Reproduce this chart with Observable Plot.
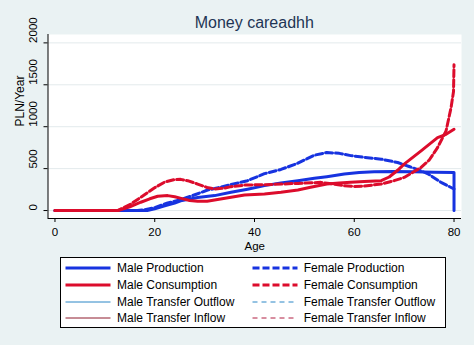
<!DOCTYPE html>
<html><head><meta charset="utf-8">
<script src="https://cdn.jsdelivr.net/npm/d3@7"></script>
<script src="https://cdn.jsdelivr.net/npm/@observablehq/plot@0.6"></script>
<style>
body{margin:0;background:#eaf2f3;font-family:"Liberation Sans",Arial,sans-serif;}
#wrap{position:relative;width:474px;height:345px;overflow:hidden;background:#eaf2f3;}
#title{position:absolute;left:47.5px;width:413.5px;top:13px;text-align:center;font-size:16px;line-height:20px;color:#1e3555;z-index:2;}
#chart{position:absolute;left:0;top:0;z-index:1;}
#legend{position:absolute;left:60px;top:257px;width:384px;height:69px;background:#fff;border:1px solid #000;font-size:12px;color:#000;z-index:2;}
.item{position:absolute;height:16px;line-height:16px;white-space:nowrap;}
.item svg{position:absolute;left:0;top:0;}
.item span{position:absolute;top:0;}
</style>
</head><body>
<div id="wrap">
  <div id="chart"></div>
  <div id="title"></div>
  <div id="legend"></div>
</div>
<script>
const titleText = "Money careadhh";
const xLabel = "Age";
const yLabel = "PLN/Year";
const xTicks = [0, 20, 40, 60, 80];
const yTicks = [0, 500, 1000, 1500, 2000];

// [age, value]
const maleProduction = [[0,0],[18.5,0],[20,20],[22,55],[24,90],[25.2,115],[28.6,155],[32,178],[35.3,218],[38.6,255],[42,297],[45.3,330],[48.7,356],[52,385],[54.5,404],[58,435],[61,455],[64,462],[68,466],[72,462],[76,458],[80,455],[80,0]];
const femaleProduction = [[0,0],[16.5,0],[18,10],[20,35],[22.6,90],[25,125],[26.6,158],[28.6,200],[30.6,245],[32,262],[35.3,310],[38.6,356],[42,440],[45.3,490],[48.7,565],[52,660],[54.5,692],[57,682],[59.3,655],[62,635],[65.4,613],[68.7,573],[71,525],[73.4,474],[75,430],[77.4,336],[80,257]];
const maleConsumption = [[0,0],[12.6,0],[15,45],[17.2,99],[19,140],[20.6,170],[22.6,178],[24,165],[25.3,145],[27,120],[28.6,110],[30.5,112],[32,125],[35.3,158],[38,185],[42,198],[45.3,218],[48.7,245],[51,275],[54.5,316],[57,328],[59.3,336],[62,345],[65.4,356],[67,400],[68.7,480],[70,554],[73.4,712],[76.7,870],[78.4,909],[80,969]];
const femaleConsumption = [[0,0],[12.6,0],[15,70],[17.2,158],[19.9,269],[22,340],[23.9,368],[25.2,372],[26.6,356],[28.6,316],[30.5,275],[32,257],[34,268],[35.3,285],[38.3,305],[42,308],[48.7,324],[53.3,336],[56,315],[58,295],[60,288],[62,292],[65.4,316],[68,356],[70,395],[73.4,514],[75,600],[76.7,751],[78.4,949],[79.4,1225],[79.9,1420],[80,1740]];

const seriesNames = ["Male Production","Female Production","Male Consumption","Female Consumption","Male Transfer Outflow","Female Transfer Outflow","Male Transfer Inflow","Female Transfer Inflow"];
const seriesData = [maleProduction, femaleProduction, maleConsumption, femaleConsumption, [], [], [], []];
const seriesColors = ["#1733e0","#1733e0","#dc0c2c","#dc0c2c","#2a86c6","#2a86c6","#8e1a2c","#b01c40"];
const seriesWidths = [3,3,3,3,1,1,1,1];
const seriesDash = [null,"7,3",null,"7,3",null,"5,4",null,"5,4"];

const xDomain = [-1.4, 81.5];
const yDomain = [-95, 2100];

document.getElementById("title").textContent = titleText;

const lineMarks = [];
[0,1,2,3].forEach(i => {
  const rows = seriesData[i].map(([age, value]) => ({age, value, series: seriesNames[i]}));
  lineMarks.push(Plot.line(rows, {x:"age", y:"value", stroke: seriesColors[i], strokeWidth: seriesWidths[i], strokeDasharray: seriesDash[i] || undefined, strokeLinejoin:"round"}));
});

const chart = Plot.plot({
  width: 474, height: 257,
  marginTop: 34, marginLeft: 47.5, marginRight: 13, marginBottom: 39,
  style: {background: "transparent", fontFamily: '"Liberation Sans",Arial,sans-serif', color: "#000"},
  x: {domain: xDomain},
  y: {domain: yDomain},
  marks: [
    Plot.frame({fill: "white", stroke: "none"}),
    Plot.gridY(yTicks, {stroke: "#e3eaec", strokeOpacity: 1}),
    Plot.ruleX([xDomain[0]], {stroke: "#000"}),
    Plot.ruleY([yDomain[0]], {stroke: "#000"}),
    Plot.axisX(xTicks, {tickSize: 4, tickPadding: 5, fontSize: 11.5, label: null}),
    Plot.axisY(yTicks, {tickSize: 4, tickFormat: () => "", label: null}),
    Plot.text(yTicks, {y: d => d, text: d => String(d), frameAnchor: "left", dx: -14.5, rotate: -90, fontSize: 11.5}),
    Plot.text([yLabel], {text: d => d, frameAnchor: "left", dx: -28, rotate: -90, fontSize: 12}),
    Plot.text([xLabel], {text: d => d, frameAnchor: "bottom", dy: 31.5, lineAnchor: "bottom", fontSize: 11.5}),
    ...lineMarks
  ]
});
document.getElementById("chart").appendChild(chart);

// legend
const legend = document.getElementById("legend");
const rowCenters = [10, 27, 43.7, 60.4];
seriesNames.forEach((name, i) => {
  const col = i % 2, row = Math.floor(i / 2);
  const item = document.createElement("div");
  item.className = "item";
  item.style.left = (col === 0 ? 4 : 190.7) + "px";
  item.style.top = (rowCenters[row] - 8) + "px";
  item.style.width = "190px";
  const ns = "http://www.w3.org/2000/svg";
  const svg = document.createElementNS(ns, "svg");
  svg.setAttribute("width", 46); svg.setAttribute("height", 16);
  const ln = document.createElementNS(ns, "line");
  ln.setAttribute("x1", 0.5); ln.setAttribute("x2", 45.5);
  ln.setAttribute("y1", 8); ln.setAttribute("y2", 8);
  ln.setAttribute("stroke", seriesColors[i]);
  ln.setAttribute("stroke-width", seriesWidths[i]);
  if (seriesDash[i]) ln.setAttribute("stroke-dasharray", seriesDash[i]);
  svg.appendChild(ln);
  item.appendChild(svg);
  const sp = document.createElement("span");
  sp.style.left = "52px";
  sp.textContent = name;
  item.appendChild(sp);
  legend.appendChild(item);
});
</script>
</body></html>
